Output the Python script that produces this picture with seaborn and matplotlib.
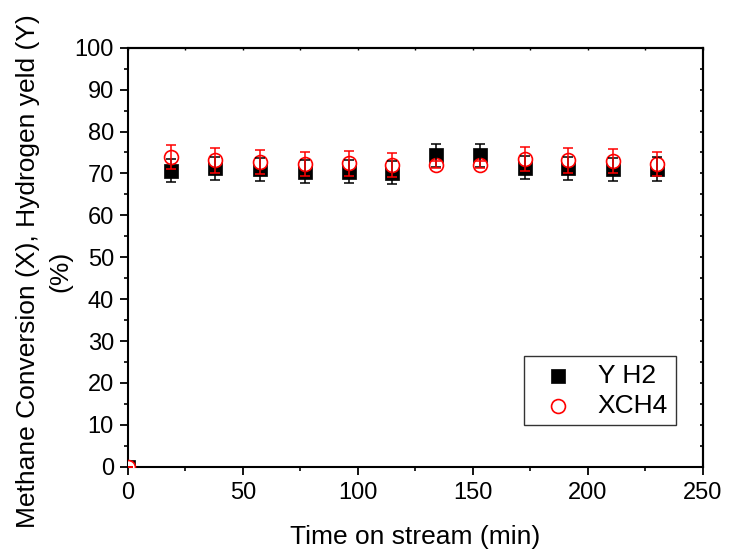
import matplotlib
import matplotlib.pyplot as plt
import seaborn as sns
import pandas as pd
from matplotlib.ticker import MultipleLocator, NullFormatter

matplotlib.use('agg')

# time on stream (min)
time_min = [0, 19, 38, 57.5, 77, 96, 115, 134, 153, 172.5, 191.5, 211, 230]
# hydrogen yield Y H2 (%)
y_h2 = [0, 70.7, 71.2, 71.0, 70.4, 70.4, 70.2, 74.3, 74.3, 71.4, 71.2, 71.0, 71.1]
y_h2_err = [0, 2.8, 2.8, 2.8, 2.8, 2.8, 2.8, 2.7, 2.7, 2.8, 2.8, 2.8, 2.8]
# methane conversion XCH4 (%)
x_ch4 = [0, 73.9, 73.1, 72.7, 72.3, 72.4, 72.0, 72.1, 72.1, 73.4, 73.1, 73.0, 72.3]
x_ch4_err = [0, 2.9, 2.9, 2.9, 2.9, 2.9, 2.9, 0.8, 0.8, 2.9, 2.9, 2.9, 2.9]

df = pd.DataFrame({'time': time_min, 'YH2': y_h2, 'YH2_err': y_h2_err,
                   'XCH4': x_ch4, 'XCH4_err': x_ch4_err})

sns.set_theme(style='ticks')
plt.rcParams['font.family'] = ['Liberation Sans', 'DejaVu Sans']
plt.rcParams['text.color'] = 'black'
plt.rcParams['axes.labelcolor'] = 'black'

fig = plt.figure(figsize=(7.3, 5.55), dpi=100)
ax = fig.add_axes([0.175, 0.159, 0.788, 0.755])

# markers first (circles cover squares), error bars on top
sns.scatterplot(data=df, x='time', y='YH2', marker='s', color='black', s=95,
                edgecolor='black', linewidth=0.5, ax=ax, zorder=2, label='Y H2',
                clip_on=True)
sns.scatterplot(data=df, x='time', y='XCH4', marker='o', facecolor='white', s=100,
                edgecolor='red', linewidth=1.2, ax=ax, zorder=3, label='XCH4',
                clip_on=True)
ax.errorbar(df['time'], df['YH2'], yerr=df['YH2_err'], fmt='none', ecolor='black',
            elinewidth=1.1, capsize=3.6, capthick=1.1, zorder=4)
ax.errorbar(df['time'], df['XCH4'], yerr=df['XCH4_err'], fmt='none', ecolor='red',
            elinewidth=1.1, capsize=3.6, capthick=1.1, zorder=5)

ax.set_xlim(0, 250)
ax.set_ylim(0, 100)
ax.xaxis.set_major_locator(MultipleLocator(50))
ax.xaxis.set_minor_locator(MultipleLocator(25))
ax.yaxis.set_major_locator(MultipleLocator(10))
ax.yaxis.set_minor_locator(MultipleLocator(5))

ax.tick_params(axis='both', which='major', direction='out', length=6, width=1.3,
               labelsize=17, colors='black')
ax.tick_params(axis='x', which='major', pad=5)
ax.tick_params(axis='y', which='major', pad=4)
ax.tick_params(axis='both', which='minor', direction='out', length=3, width=1.2,
               colors='black')

# small inward ticks on the right and top spines
sec_y = ax.secondary_yaxis('right')
sec_y.yaxis.set_major_locator(MultipleLocator(5))
sec_y.yaxis.set_major_formatter(NullFormatter())
sec_y.tick_params(direction='in', length=2.5, width=1.2, colors='black')
sec_x = ax.secondary_xaxis('top')
sec_x.xaxis.set_major_locator(MultipleLocator(25))
sec_x.xaxis.set_major_formatter(NullFormatter())
sec_x.tick_params(direction='in', length=1.5, width=1.0, colors='black')

for a in (ax, sec_y, sec_x):
    for sp in a.spines.values():
        sp.set_linewidth(1.5)
        sp.set_color('black')

ax.set_xlabel('Time on stream (min)', fontsize=19)
ax.xaxis.set_label_coords(0.5, -0.138)
ax.set_ylabel('Methane Conversion (X), Hydrogen yeld (Y)\n(%)', fontsize=19,
              linespacing=1.4)
ax.yaxis.set_label_coords(-0.097, 0.4666)

leg = ax.legend(loc='lower right', bbox_to_anchor=(0.953, 0.0986), borderaxespad=0,
                fontsize=19, frameon=True, fancybox=False, edgecolor='black',
                handletextpad=0.5, borderpad=0.3, labelspacing=0.2, handlelength=2.0)
leg.get_frame().set_linewidth(1.0)
leg.set_zorder(10)

fig.savefig('out.png', dpi=100)
